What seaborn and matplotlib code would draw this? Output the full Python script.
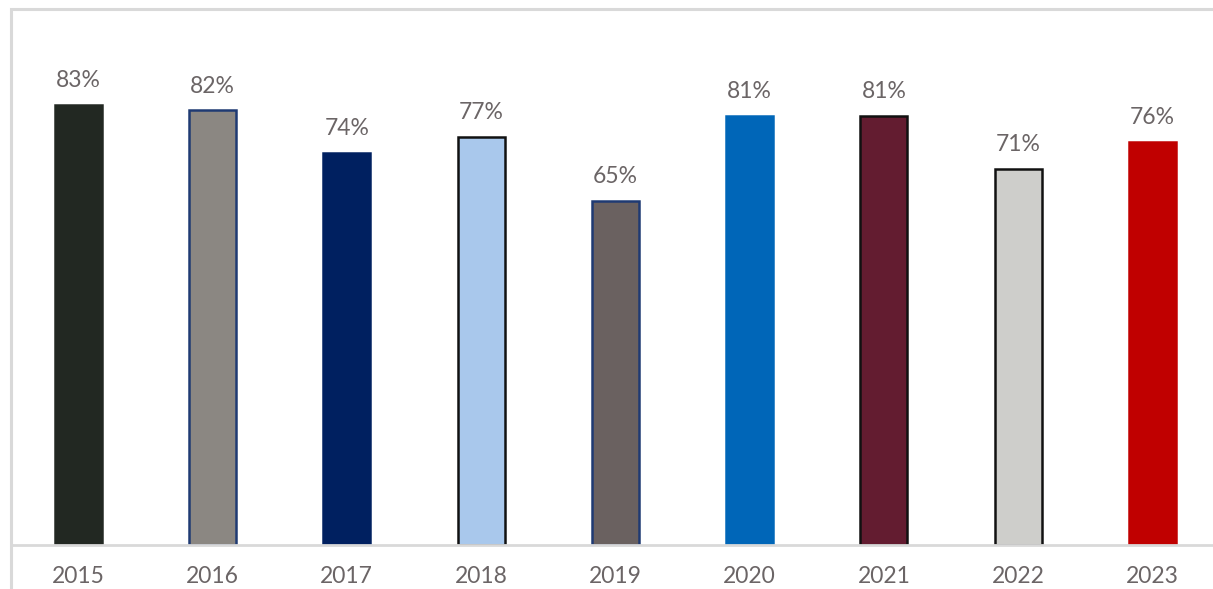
import matplotlib
matplotlib.use("Agg")
import matplotlib.pyplot as plt
from matplotlib.patches import Rectangle
import seaborn as sns
import pandas as pd

years = ["2015", "2016", "2017", "2018", "2019", "2020", "2021", "2022", "2023"]
values = [83, 82, 74, 77, 65, 81, 81, 71, 76]
fill_colors = ["#222822", "#8b8782", "#002060", "#a9c8ec", "#6a6160",
               "#0066b8", "#631c30", "#cececb", "#c00000"]
edge_colors = ["#222822", "#1f3a73", "#002060", "#111111", "#1f3a73",
               "#0066b8", "#111111", "#111111", "#c00000"]

df = pd.DataFrame({"year": years, "value": values})

sns.set_theme(style="white")
plt.rcParams["font.family"] = ["Lato", "DejaVu Sans"]

W, H = 1213, 589
fig = plt.figure(figsize=(W / 100, H / 100), dpi=100)

# chart frame
fig.patches.append(Rectangle((11 / W, -0.1), 1.2, (589 - 9) / H + 0.1,
                             transform=fig.transFigure, fill=False,
                             edgecolor="#d9d9d9", linewidth=2.2, zorder=0))

left, base = 11 / W, (H - 545) / H
ax = fig.add_axes([left, base, 1 - left, (545 - 15) / H])

sns.barplot(data=df, x="year", y="value", hue="year", palette=fill_colors,
            width=0.35, legend=False, ax=ax, saturation=1)

for patch, ec in zip(ax.patches, edge_colors):
    patch.set_edgecolor(ec)
    patch.set_linewidth(1.8)

step = 134.3
ax.set_xlim(-0.5, (W - 11) / step - 0.5)
ax.set_ylim(0, 100)

for i, v in enumerate(values):
    ax.text(i, v + 2.6, f"{v}%", ha="center", va="bottom",
            fontsize=16.5, color="#6b6566")

ax.set_xlabel("")
ax.set_ylabel("")
ax.set_yticks([])
ax.tick_params(axis="x", length=0, pad=15, labelsize=16.5, labelcolor="#6b6566")
for s in ["top", "right", "left"]:
    ax.spines[s].set_visible(False)
ax.spines["bottom"].set_color("#d9d9d9")
ax.spines["bottom"].set_linewidth(2)
ax.patch.set_alpha(0)

fig.savefig("out.png", dpi=100)
